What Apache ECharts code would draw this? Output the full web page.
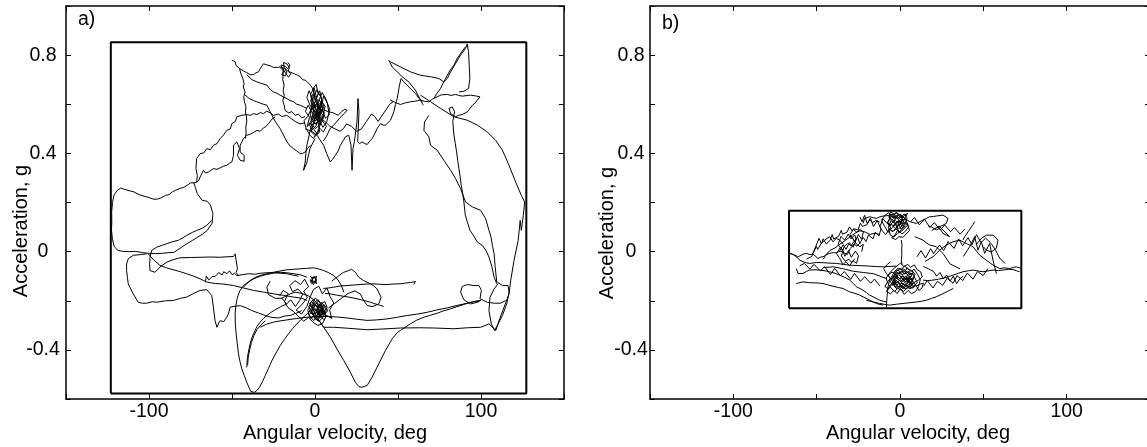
<!DOCTYPE html>
<html><head><meta charset="utf-8">
<script src="https://cdn.jsdelivr.net/npm/echarts@6/dist/echarts.min.js"></script>
<style>html,body{margin:0;padding:0;background:#fff;overflow:hidden}#c{width:1147px;height:447px}</style>
</head><body><div id="c"></div>
<script>
// ---- axis ticks / labels ----
const xTickLabels = [-100, 0, 100];
const yTickLabels = [-0.4, 0, 0.4, 0.8];
const xTitle = 'Angular velocity, deg';
const yTitle = 'Acceleration, g';

// ---- bounding boxes (data units) ----
const boxA = [[-123,-0.578],[127.3,-0.578],[127.3,0.852],[-123,0.852],[-123,-0.578]];
const boxB = [[-66.6,-0.231],[72.8,-0.231],[72.8,0.166],[-66.6,0.166],[-66.6,-0.231]];

// ---- panel a trajectories ----
const aLoopLeft = [[-73,0.28],[-75,0.28],[-77,0.27],[-79,0.262],[-81,0.258],[-84,0.25],[-86,0.243],[-88,0.232],[-90,0.229],[-93,0.218],[-95,0.214],[-97,0.213],[-100,0.22],[-103,0.226],[-106,0.232],[-109,0.243],[-112,0.248],[-115,0.254],[-117,0.259],[-119,0.25],[-121,0.232],[-122,0.2],[-122.5,0.16],[-122.4,0.12],[-122.6,0.087],[-122,0.05],[-121,0.022],[-119,0.006],[-116,0.001],[-112,0.0],[-108,0.001],[-104,-0.004],[-100,-0.007],[-96,-0.008],[-92,-0.007],[-88,-0.004],[-85,-0.003],[-81,0.015],[-77,0.033],[-74,0.045],[-71,0.058],[-68,0.07],[-65,0.086],[-62,0.115],[-61.5,0.155],[-63,0.19],[-65,0.205],[-68,0.209],[-71,0.237],[-72,0.26],[-73,0.28]];
const aLoopInner = [[-62.2,0.127],[-65.2,0.107],[-68,0.095],[-71.3,0.086],[-74,0.078],[-77.3,0.066],[-80,0.055],[-82.3,0.046],[-86,0.04],[-89.4,0.032],[-92,0.026],[-95.4,0.018],[-98.4,0.005],[-99.4,-0.022],[-99.6,-0.05],[-99.4,-0.077],[-96.4,-0.084],[-93.4,-0.063],[-89.4,-0.043],[-85,-0.032],[-81.3,-0.025],[-75,-0.024],[-69.2,-0.023],[-63,-0.022],[-57.2,-0.023],[-53,-0.021],[-49.1,-0.02],[-48.1,-0.009],[-47.5,-0.036],[-46.7,-0.07],[-47.5,-0.085],[-46.1,-0.097]];
const aLoopLow = [[-101.4,-0.009],[-105,-0.012],[-109.5,-0.015],[-112.5,-0.029],[-113.5,-0.05],[-113.5,-0.077],[-113,-0.105],[-112.5,-0.131],[-111,-0.152],[-109.5,-0.172],[-106.5,-0.206],[-104,-0.21],[-101.4,-0.21],[-98,-0.204],[-95.4,-0.206],[-90,-0.2],[-85.3,-0.199],[-81,-0.19],[-77.3,-0.185],[-73,-0.17],[-69.2,-0.158],[-65.2,-0.155],[-62.2,-0.179],[-61.2,-0.226],[-60.8,-0.25],[-60.2,-0.281],[-59.1,-0.308],[-58,-0.29],[-57.1,-0.281],[-55,-0.285],[-53.1,-0.267],[-52,-0.25],[-51.1,-0.226],[-48,-0.222],[-45,-0.22],[-41,-0.23],[-38,-0.24],[-34,-0.25],[-30,-0.26],[-26,-0.268],[-22,-0.27],[-18,-0.262],[-15,-0.26],[-11,-0.25],[-8,-0.24]];
const aLoopMid = [[-100.4,-0.009],[-97,-0.035],[-93.4,-0.056],[-90,-0.065],[-87.4,-0.07],[-82,-0.08],[-77.3,-0.09],[-73,-0.1],[-69.2,-0.111],[-67,-0.118],[-65.2,-0.124],[-60,-0.13],[-55,-0.132],[-49.1,-0.138],[-43,-0.148],[-37,-0.158],[-31,-0.165],[-25,-0.172],[-19,-0.178],[-12.9,-0.185],[-8,-0.19],[-4.9,-0.199]];
const aJagMid = [[-66,-0.125],[-65.5,-0.1],[-64,-0.115],[-62,-0.102],[-60,-0.1],[-58,-0.085],[-56,-0.095],[-55,-0.082],[-53,-0.09],[-51.5,-0.078],[-50,-0.094],[-48.5,-0.088],[-47,-0.098],[-44,-0.094],[-40,-0.09],[-36,-0.092],[-33,-0.088],[-29,-0.086],[-25,-0.085],[-21,-0.088],[-17,-0.09],[-13,-0.096],[-10,-0.1]];
const aDiagonal = [[-73,0.28],[-71.3,0.283],[-70.9,0.31],[-71.7,0.338],[-71.3,0.379],[-69.2,0.399],[-67,0.402],[-65.2,0.419],[-63,0.415],[-61.2,0.433],[-59,0.44],[-57.2,0.46],[-55.2,0.474],[-54,0.47],[-53.1,0.494],[-51,0.5],[-50.1,0.521],[-48,0.53],[-47.1,0.549],[-44.1,0.555],[-41.1,0.558],[-39,0.555],[-37,0.562],[-35,0.558],[-33,0.566],[-31,0.562],[-29,0.572],[-27,0.565],[-25,0.555]];
const aStair = [[-71.3,0.283],[-70,0.29],[-69.2,0.304],[-68,0.32],[-67.2,0.331],[-66,0.32],[-64.2,0.324],[-63,0.33],[-61.2,0.338],[-59,0.335],[-57.2,0.341],[-55,0.348],[-53.1,0.352],[-51.5,0.36],[-50.1,0.365],[-49.1,0.392],[-50.1,0.399],[-49.1,0.433],[-47.1,0.447],[-45.5,0.42],[-46.7,0.392],[-45.1,0.372],[-42.7,0.368],[-42.7,0.392],[-45.1,0.406],[-45.1,0.433],[-43.1,0.46],[-41.1,0.474],[-39,0.478],[-37,0.485],[-35,0.494],[-33,0.49],[-31,0.504],[-29.5,0.51],[-28,0.521],[-26,0.539],[-24,0.549]];
const aTopVert = [[-50.1,0.78],[-48.1,0.773],[-47.5,0.757],[-45.5,0.746],[-44.7,0.725],[-43.5,0.705],[-42.7,0.684],[-43.2,0.67],[-42.1,0.65],[-42.9,0.63],[-42.5,0.61],[-41.6,0.59],[-41.9,0.569],[-41.3,0.548],[-41.1,0.528],[-41.7,0.508],[-41.5,0.487],[-41.9,0.46]];
const aTopEdge = [[-45.5,0.746],[-43,0.735],[-41.1,0.729],[-39,0.72],[-37,0.721],[-35.5,0.728],[-34,0.732],[-33,0.745],[-32,0.752],[-31,0.765],[-30,0.77],[-29,0.76],[-28,0.752],[-27,0.757],[-26,0.762],[-25,0.75],[-24,0.746],[-22.5,0.75],[-21,0.752],[-19.5,0.748],[-18,0.746],[-16,0.732],[-14.5,0.73],[-12.9,0.725],[-11,0.72],[-8.9,0.712],[-7.5,0.7],[-5.9,0.698],[-4.5,0.69],[-2.8,0.678],[-1.5,0.665],[-0.8,0.65],[0.2,0.61]];
const aTopLine1 = [[-41.1,0.72],[-38,0.7],[-35,0.691],[-32,0.684],[-29,0.678],[-27,0.66],[-25,0.65],[-23,0.645],[-21,0.637],[-19,0.63],[-16.9,0.623],[-15,0.615],[-12.9,0.61],[-11,0.6],[-8.9,0.596],[-7,0.59],[-4.9,0.583]];
const aTopLine2 = [[-42.5,0.64],[-40,0.625],[-37,0.615],[-35,0.61],[-32,0.602],[-29,0.596],[-27,0.57],[-25,0.542],[-23,0.52],[-21,0.501],[-19,0.475],[-16.9,0.447],[-15,0.43],[-12.9,0.419],[-11,0.41],[-8.9,0.399],[-7.5,0.4],[-5.9,0.406],[-4.5,0.42],[-2.8,0.433]];
const aTopLine3 = [[-19,0.746],[-19.4,0.7],[-18.6,0.678],[-19.2,0.655],[-18.5,0.637],[-19.4,0.615],[-18.6,0.596],[-18,0.575],[-16,0.565],[-14,0.57],[-12,0.555],[-10,0.56],[-8,0.545],[-6,0.55]];
const aTopLine4 = [[-25,0.555],[-22,0.56],[-20,0.55],[-17,0.555],[-15,0.545],[-12,0.53],[-9,0.52],[-6,0.525]];
const aTopCluster = [[-21,0.75],[-19,0.735],[-20,0.72],[-18,0.715],[-17,0.73],[-18.5,0.75],[-19,0.77],[-17,0.765],[-15.5,0.75],[-16,0.735],[-14.5,0.725],[-16,0.71],[-17.5,0.725],[-19.5,0.745],[-20.5,0.76],[-18,0.755],[-16.5,0.745],[-15,0.76],[-16.5,0.77]];
const aBlobTop = [[0.5,0.552],[2.3,0.571],[1.1,0.604],[-0.8,0.588],[-2.6,0.612],[-1.4,0.641],[0.9,0.627],[2.8,0.655],[4.1,0.618],[3.2,0.583],[5.6,0.566],[4.4,0.532],[6.9,0.511],[5.1,0.487],[2.7,0.503],[1.4,0.478],[-0.6,0.497],[-2.9,0.523],[-4.7,0.509],[-3.3,0.547],[-5.8,0.571],[-4.1,0.596],[-1.9,0.566],[0.2,0.531],[1.8,0.548],[3.9,0.597],[5.2,0.633],[7.4,0.604],[8.6,0.558],[6.3,0.543],[4.7,0.571],[2.2,0.592],[0.4,0.615],[-1.3,0.662],[0.7,0.681],[1.9,0.642],[-0.2,0.603],[-2.4,0.579],[-4.4,0.551],[-6.6,0.533],[-5.2,0.498],[-2.8,0.472],[-0.9,0.461],[1.6,0.489],[3.4,0.521],[2.1,0.557],[-0.4,0.572],[-3.1,0.597],[-4.9,0.628],[-3.6,0.655],[-1.8,0.628],[0.1,0.586],[2.6,0.534],[4.8,0.506],[7.1,0.529],[8.9,0.578],[6.6,0.621],[4.3,0.648],[2.5,0.617],[0.8,0.569],[-1.2,0.541],[-3.7,0.519],[-1.6,0.496],[0.6,0.512],[3.1,0.561],[5.3,0.589],[3.6,0.627],[1.2,0.659],[-0.7,0.633],[-2.1,0.601],[-0.3,0.556],[2.4,0.518],[4.6,0.548],[6.1,0.592],[4.2,0.609],[1.7,0.583],[-0.6,0.527],[-2.3,0.488],[0.3,0.471],[2.9,0.487],[1.5,0.538],[-1.1,0.583],[-2.7,0.641],[-0.5,0.667],[1.3,0.614],[3.3,0.574],[1.0,0.545]];
const aBlobTopCore = [[0.8,0.551],[1.9,0.563],[1.2,0.578],[2.6,0.589],[3.4,0.571],[2.7,0.552],[4.1,0.541],[3.3,0.527],[1.8,0.533],[0.6,0.518],[-0.7,0.529],[-1.6,0.546],[-0.9,0.562],[-2.3,0.574],[-1.4,0.591],[0.1,0.584],[0.9,0.603],[2.2,0.597],[3.6,0.608],[4.6,0.588],[3.9,0.562],[5.1,0.553],[4.4,0.533],[2.9,0.516],[1.5,0.508],[0.2,0.501],[-1.2,0.513],[-2.4,0.528],[-1.8,0.553],[-0.3,0.547],[1.1,0.536],[2.4,0.544],[1.6,0.571],[0.3,0.569],[-1.1,0.583],[-0.2,0.598],[1.4,0.589],[2.9,0.576],[4.2,0.593],[3.1,0.613],[1.7,0.618],[0.4,0.611],[-0.8,0.604],[-2.1,0.593],[-2.9,0.561],[-2.2,0.538],[-0.6,0.521],[0.9,0.524],[2.3,0.531],[3.8,0.551],[2.6,0.568],[1.0,0.559],[-0.4,0.537],[0.7,0.547]];
const aMidRight = [[-6,0.5],[-2,0.49],[1.2,0.474],[3,0.455],[5.2,0.433],[7,0.4],[9.2,0.365],[10.5,0.375],[12.2,0.392],[14,0.41],[15.3,0.433],[17,0.452],[18.3,0.467],[20.3,0.474],[21.7,0.433],[22.3,0.331],[22.9,0.42],[23.7,0.447],[25.3,0.528],[25.9,0.623],[26.5,0.569],[25.7,0.447],[27,0.44],[28.3,0.447],[30,0.44],[31.4,0.436],[33,0.45],[34.4,0.46],[36,0.48],[37.4,0.501],[39.4,0.521],[41,0.515],[42.4,0.515],[44,0.525],[45.5,0.535],[47.5,0.569],[48.5,0.6],[49.5,0.623],[50.2,0.65],[50.9,0.678],[51.9,0.705],[53.5,0.69],[55.5,0.678],[58,0.66],[60.5,0.644],[62.5,0.625],[64.6,0.61]];
const aSpikeDown = [[-2,0.52],[-4.9,0.433],[-5.5,0.4],[-5.9,0.365],[-6.9,0.331],[-5,0.36],[-3,0.42],[0,0.46]];
const aMidZig = [[3,0.54],[6,0.53],[9,0.51],[12,0.5],[15,0.49],[17,0.5],[19,0.52],[22,0.51],[25,0.49],[28,0.5],[31,0.53],[34,0.56],[36,0.55],[38,0.53],[41,0.56],[43,0.58],[45,0.6],[47,0.61]];
const aSpur = [[4,0.58],[8,0.57],[11,0.565],[14,0.555],[16,0.57],[18,0.58],[19.3,0.576],[18,0.565],[15,0.545],[12,0.52],[9,0.5],[7,0.47],[5,0.45]];
const aRightA = [[44.4,0.78],[46.5,0.752],[49.5,0.732],[52.5,0.712],[56.5,0.691],[60.5,0.657],[63.6,0.617],[65.2,0.596]];
const aRightB = [[45.4,0.773],[51.5,0.752],[57.5,0.732],[63.6,0.718],[69.6,0.712],[74.6,0.705],[77.6,0.691],[79.7,0.705],[81.7,0.732],[84.7,0.766],[87.7,0.8],[90.7,0.827],[91.7,0.845],[92.5,0.814],[92.9,0.759],[93.3,0.705],[92.5,0.664],[89.7,0.653],[86.7,0.65]];
const aRightC = [[71.6,0.623],[73.5,0.645],[75.6,0.664],[77.5,0.69],[79.7,0.718],[81.5,0.74],[83.7,0.759],[85.5,0.785],[87.7,0.807],[90.7,0.834]];
const aRightD = [[45.4,0.617],[48,0.608],[51.5,0.599],[54,0.605],[57.5,0.61],[60,0.612],[63.6,0.617],[66,0.612],[68.6,0.61],[71,0.622],[73.6,0.63],[76,0.638],[79.7,0.64],[82,0.636],[84.7,0.64],[86.5,0.636],[88.7,0.633],[91,0.635],[93.7,0.637],[96.7,0.634],[99.4,0.63],[97.8,0.617],[96.5,0.605],[94.8,0.596],[93,0.58],[91.7,0.569],[88.7,0.558],[86.5,0.555],[84.7,0.549],[81.7,0.562],[80.7,0.583],[82.7,0.589],[84.1,0.569],[83,0.53],[83.7,0.474],[84.5,0.44],[85.3,0.406],[86,0.37],[86.7,0.338],[87.5,0.3],[88.1,0.27],[89,0.235],[89.7,0.202],[90.5,0.15],[91.8,0.12],[93.4,0.086],[94.8,0.073],[97.8,0.039],[100.8,0.025],[103,0.005],[104.8,-0.022],[106.5,-0.06],[107.9,-0.104],[109.5,-0.131]];
const aRightE = [[68.6,0.555],[66,0.528],[65.6,0.494],[68.6,0.467],[69.6,0.433],[73.6,0.413],[77.6,0.372],[81.7,0.331],[84.7,0.297],[87.7,0.256],[90.7,0.202],[94.8,0.182],[99.8,0.168],[102.8,0.134],[104.8,0.087],[106,0.06],[107,0.02],[107.9,-0.009],[108.5,-0.06],[109.5,-0.124]];
const aRightOuter = [[63.6,0.637],[69.6,0.61],[75.6,0.583],[83.7,0.549],[91.7,0.535],[97.8,0.515],[103.8,0.487],[108.8,0.453],[112.9,0.413],[116.9,0.351],[120.9,0.283],[124.3,0.229],[126.3,0.202],[125.5,0.148],[124.3,0.087],[123.6,0.127],[122.4,0.046],[119.9,-0.036],[117.9,-0.117],[116.9,-0.172],[113.9,-0.226],[110.9,-0.281],[108.9,-0.321],[104.8,-0.294],[99.8,-0.308],[91.7,-0.31],[83.7,-0.314],[71.6,-0.311],[63.6,-0.31],[51.5,-0.311],[41,-0.315],[31.4,-0.318],[20,-0.312],[11.2,-0.308],[5.2,-0.308],[3.2,-0.287],[-0.8,-0.267]];
const aRightLoop1 = [[109.8,-0.124],[112.9,-0.138],[116.3,-0.138],[116.9,-0.165],[115.5,-0.213],[112.9,-0.26],[109.8,-0.301],[108.2,-0.321],[106.2,-0.294],[104.8,-0.24],[105.4,-0.186],[107.9,-0.152],[110.2,-0.131]];
const aRightLoop2 = [[99.8,-0.199],[97.8,-0.206],[93.7,-0.213],[89.7,-0.196],[87.7,-0.165],[88.7,-0.142],[91.7,-0.134],[95.7,-0.138],[98.8,-0.138],[100.2,-0.158],[99.4,-0.192],[103.8,-0.206],[108,-0.21],[111.8,-0.21],[114.9,-0.199]];
const aCross = [[-33,-0.308],[-29,-0.295],[-25,-0.287],[-21,-0.282],[-16.9,-0.278],[-11,-0.272],[-4.9,-0.267],[1,-0.265],[7.2,-0.264],[13,-0.266],[19.3,-0.27],[25,-0.275],[31.4,-0.28],[37,-0.278],[43.4,-0.274],[49,-0.268],[55.5,-0.26],[61,-0.255],[67.6,-0.247],[73,-0.238],[79.7,-0.229],[85,-0.22],[89.7,-0.213],[94,-0.206],[99.8,-0.199]];
const aVee = [[1.2,-0.267],[5.2,-0.308],[9.2,-0.348],[13.2,-0.396],[17.3,-0.443],[21.3,-0.491],[24.3,-0.532],[26.5,-0.55],[28.3,-0.552],[31.4,-0.545],[34.4,-0.511],[38.4,-0.457],[42.4,-0.403],[46.5,-0.355],[49.5,-0.33],[51.5,-0.321],[57.5,-0.294],[61,-0.28],[65.6,-0.267],[69,-0.26],[73.6,-0.251],[77,-0.242],[81.7,-0.233],[85,-0.225],[89.7,-0.215],[93,-0.208],[96.7,-0.202],[99.8,-0.199]];
const aUShape = [[-4.9,-0.104],[-8.5,-0.095],[-12.9,-0.09],[-17,-0.086],[-21,-0.084],[-25,-0.088],[-29,-0.093],[-33,-0.1],[-37,-0.111],[-40,-0.123],[-43.1,-0.138],[-45.3,-0.16],[-46.7,-0.185],[-47.7,-0.22],[-48.1,-0.253],[-48,-0.295],[-47.5,-0.335],[-46.8,-0.375],[-46.1,-0.416],[-45.2,-0.447],[-44.1,-0.477],[-42.6,-0.505],[-41.1,-0.532],[-38.7,-0.569],[-36.6,-0.573],[-35,-0.565],[-33.4,-0.552],[-31.7,-0.53],[-30,-0.505],[-28,-0.475],[-26,-0.444],[-23.5,-0.413],[-21,-0.383],[-18.5,-0.358],[-16,-0.335],[-13.5,-0.313],[-10.9,-0.294],[-8.5,-0.277],[-5.9,-0.26],[-3.5,-0.245],[-0.8,-0.233]];
const aThinSpike = [[-41.1,-0.471],[-40.9,-0.45],[-40.7,-0.43],[-40,-0.405],[-39.1,-0.376],[-38,-0.35],[-36.6,-0.328],[-35,-0.305],[-33,-0.287],[-31,-0.272],[-29,-0.26],[-26,-0.245],[-23,-0.233],[-20,-0.222],[-16.9,-0.213]];
const aThinSpike2 = [[-40.6,-0.462],[-40.2,-0.43],[-39.4,-0.4],[-38.3,-0.37],[-36.8,-0.342],[-35,-0.318],[-32.5,-0.298],[-30,-0.282]];
const aArcLow = [[-43.1,-0.145],[-41,-0.13],[-39.1,-0.118],[-36,-0.105],[-33,-0.097],[-29,-0.09],[-25,-0.084],[-21,-0.079],[-16.9,-0.074],[-13,-0.072],[-8.9,-0.07],[-5,-0.068],[-0.8,-0.066],[2,-0.07],[5.2,-0.077],[8,-0.085],[11.2,-0.097],[13.5,-0.112],[15.3,-0.131],[16.5,-0.148],[17.3,-0.165]];
const aToRight1 = [[5,-0.15],[8,-0.148],[11.2,-0.145],[15,-0.14],[19.3,-0.138],[23,-0.136],[27.3,-0.134],[31,-0.132],[35.4,-0.131],[39,-0.133],[43.4,-0.134],[47,-0.132],[51.5,-0.131],[54.5,-0.128],[57.5,-0.126],[60.5,-0.122],[59.5,-0.134]];
const aToRight2 = [[6,-0.17],[9.2,-0.172],[13,-0.177],[17.3,-0.182],[21,-0.186],[25.3,-0.192],[29,-0.198],[33.4,-0.206],[36,-0.212],[39.4,-0.219],[41.4,-0.223]];
const aSmallLoop = [[10,-0.12],[14,-0.1],[17,-0.085],[20.3,-0.077],[22,-0.072],[24.3,-0.084],[26.3,-0.104],[29.3,-0.118],[33.4,-0.131],[35.5,-0.14],[37.4,-0.152],[39.8,-0.186],[38.4,-0.213],[34.4,-0.224],[31.4,-0.219],[29.3,-0.199],[27.3,-0.172],[24,-0.16],[20,-0.17],[16,-0.19],[12,-0.21],[8,-0.23]];
const aLeftOfCluster = [[-27,-0.12],[-29,-0.145],[-28,-0.175],[-24,-0.19],[-20,-0.19],[-16,-0.175],[-12,-0.165],[-8,-0.17],[-4,-0.18],[0,-0.2]];
const aBlobLowCore = [[1.2,-0.231],[3.4,-0.247],[2.1,-0.268],[-0.3,-0.259],[-2.6,-0.272],[-4.1,-0.251],[-2.2,-0.229],[-0.4,-0.207],[1.9,-0.196],[3.7,-0.214],[5.8,-0.203],[7.3,-0.227],[6.1,-0.252],[4.2,-0.271],[2.6,-0.283],[0.4,-0.276],[-1.7,-0.248],[-3.8,-0.226],[-2.1,-0.203],[0.7,-0.218],[2.8,-0.236],[4.9,-0.244],[6.7,-0.266],[4.6,-0.221],[2.3,-0.201],[0.2,-0.189],[-1.9,-0.214],[-4.4,-0.238],[-3.1,-0.263],[-0.8,-0.281],[1.6,-0.262],[3.9,-0.231],[5.5,-0.216],[7.8,-0.241],[5.2,-0.257],[2.9,-0.224],[0.9,-0.243],[-1.3,-0.232],[-3.3,-0.211],[-1.0,-0.195],[1.4,-0.212],[3.2,-0.258],[5.0,-0.276],[2.4,-0.249],[0.1,-0.233],[-2.4,-0.241],[-0.6,-0.266],[1.8,-0.277],[4.4,-0.259],[6.4,-0.234],[4.1,-0.206],[1.7,-0.224],[-0.9,-0.217],[-2.8,-0.252],[0.5,-0.252],[2.7,-0.213],[4.8,-0.233],[3.0,-0.269],[0.8,-0.238]];
const aBlobLowCore2 = [[1.3,-0.228],[2.4,-0.239],[1.7,-0.252],[0.2,-0.246],[-0.9,-0.259],[-2.1,-0.246],[-1.3,-0.231],[-0.1,-0.219],[1.1,-0.208],[2.6,-0.216],[3.8,-0.227],[4.9,-0.238],[4.2,-0.254],[3.1,-0.263],[1.8,-0.268],[0.6,-0.259],[-0.6,-0.241],[-1.9,-0.224],[-0.8,-0.211],[0.7,-0.221],[1.9,-0.233],[3.2,-0.241],[5.4,-0.252],[4.6,-0.229],[3.3,-0.212],[2.1,-0.201],[0.8,-0.209],[-0.5,-0.228],[-1.6,-0.253],[-0.3,-0.266],[1.2,-0.258],[2.7,-0.247],[3.9,-0.234],[2.8,-0.222],[1.5,-0.236],[0.3,-0.233]];
const aBlobLowOuter = [[-20.3,-0.187],[-17.1,-0.213],[-14.6,-0.196],[-11.8,-0.224],[-9.2,-0.198],[-7.4,-0.173],[-10.3,-0.152],[-13.5,-0.163],[-15.2,-0.139],[-12.1,-0.118],[-8.7,-0.134],[-6.2,-0.112],[-3.9,-0.143],[-6.8,-0.161],[-4.6,-0.187],[-8.3,-0.219],[-11.4,-0.238],[-8.1,-0.254],[-4.9,-0.223],[-2.7,-0.181],[-0.8,-0.153],[2.3,-0.141],[4.4,-0.172],[7.2,-0.148],[9.1,-0.183],[11.3,-0.209],[8.8,-0.238],[10.1,-0.272],[6.9,-0.259],[4.7,-0.291],[1.8,-0.301],[-1.3,-0.287],[-3.8,-0.268],[-6.9,-0.283],[-10.2,-0.262],[-13.1,-0.243],[-16.3,-0.228],[-18.4,-0.203],[-16.1,-0.171],[-19.2,-0.158],[-21.4,-0.181]];
const aBlobLowPatch = [[-3,-0.1],[-1,-0.11],[1,-0.1],[0,-0.12],[-2,-0.13],[-3,-0.115],[-1,-0.12],[1,-0.13],[0,-0.105],[-2,-0.105],[-1,-0.135],[1,-0.115],[-0.5,-0.1],[-2.5,-0.125]];

// ---- panel b trajectories ----
const bLeft1 = [[-66.6,-0.007],[-65,-0.01],[-63.2,-0.014],[-61.5,-0.02],[-60.2,-0.018],[-58,-0.01],[-56.2,-0.007],[-54,-0.012],[-52.2,-0.01],[-50.5,-0.02],[-49.2,-0.028],[-47.5,-0.022],[-46.2,-0.021],[-44,-0.012],[-42.2,-0.007],[-40,-0.004],[-38.2,-0.005],[-36,0.002],[-34.2,0.0]];
const bLeft2 = [[-66.6,-0.005],[-64,-0.012],[-62.2,-0.021],[-60,-0.035],[-58.2,-0.041],[-56,-0.046],[-54.2,-0.048],[-50,-0.044],[-46.2,-0.045],[-42,-0.047],[-38.2,-0.048],[-34,-0.052],[-30.2,-0.055],[-24,-0.057],[-18.2,-0.059],[-14,-0.061],[-10.2,-0.062],[-6,-0.06],[-2.2,-0.059]];
const bLeft3 = [[-62.2,-0.069],[-61.2,-0.089],[-58.2,-0.089],[-56,-0.08],[-54.2,-0.075],[-51,-0.074],[-48.2,-0.075],[-45,-0.078],[-42.2,-0.082],[-39,-0.088],[-36.2,-0.096],[-33,-0.105],[-30.2,-0.116],[-28,-0.13],[-26.2,-0.143],[-24,-0.15],[-22.2,-0.157],[-20,-0.168],[-18.2,-0.177],[-15,-0.188],[-12.2,-0.198],[-10,-0.202],[-8.2,-0.205]];
const bLeft4 = [[-62.2,-0.13],[-60,-0.126],[-58.2,-0.123],[-55,-0.126],[-52.2,-0.127],[-49,-0.128],[-46.2,-0.13],[-43,-0.136],[-40.2,-0.141],[-37,-0.146],[-34.2,-0.15],[-32,-0.158],[-30.2,-0.164],[-27,-0.17],[-24.2,-0.177],[-21,-0.188],[-18.2,-0.198],[-16,-0.205],[-14.2,-0.211],[-12,-0.215],[-10.2,-0.218]];
const bLeftSpikes = [[-56,-0.03],[-53,-0.02],[-50.2,0.027],[-48.6,0.054],[-47.2,0.033],[-45.2,0.047],[-42.2,0.061],[-40.2,0.04],[-38.2,0.054],[-36.2,0.047],[-34,0.03]];
const bLeftArc = [[-46,-0.03],[-44,-0.01],[-42,0.005],[-39,0.015],[-36,0.03],[-33,0.045],[-30,0.06],[-27,0.075],[-24,0.085],[-21,0.08],[-18,0.07],[-15,0.075],[-12,0.07]];
const bJag1 = [[-52.3,-0.008],[-50.1,0.021],[-49.4,0.009],[-46.8,0.038],[-46.1,0.052],[-44.2,0.031],[-41.9,0.047],[-40.7,0.069],[-39.8,0.051],[-36.9,0.062],[-35.2,0.087],[-34.6,0.071],[-31.8,0.079],[-30.3,0.101],[-28.7,0.084],[-27.9,0.093],[-25.1,0.089],[-23.8,0.116],[-22.6,0.103],[-19.9,0.109],[-18.2,0.131],[-16.7,0.118],[-14.3,0.127],[-12.2,0.121]];
const bJag2 = [[-24.1,0.141],[-22.7,0.122],[-21.3,0.148],[-19.6,0.113],[-17.8,0.137],[-15.9,0.102],[-13.7,0.126],[-11.4,0.093],[-12.6,0.064],[-14.8,0.079],[-16.2,0.052],[-18.9,0.068],[-20.4,0.041],[-22.1,0.058],[-24.3,0.031]];
const bJag5 = [[-60.2,-0.058],[-57.4,-0.048],[-54.1,-0.071],[-51.6,-0.052],[-47.8,-0.079],[-45.3,-0.061],[-41.7,-0.093],[-39.2,-0.068],[-35.8,-0.098],[-33.4,-0.081],[-29.6,-0.113],[-27.3,-0.089],[-23.7,-0.121],[-21.2,-0.102],[-17.6,-0.129],[-15.3,-0.112],[-12.1,-0.139]];
const bClusterLeft = [[-36.2,0.003],[-34.1,0.028],[-32.3,0.009],[-30.4,0.037],[-28.1,0.018],[-26.3,0.049],[-27.2,0.068],[-29.4,0.052],[-31.1,0.071],[-33.2,0.047],[-35.4,0.062],[-37.2,0.027],[-34.8,0.011],[-33.1,-0.019],[-30.9,0.004],[-29.2,-0.023],[-26.8,0.002],[-24.9,-0.017],[-26.1,-0.048],[-28.3,-0.037],[-30.2,-0.058],[-32.4,-0.041],[-34.3,-0.053],[-36.1,-0.028],[-38.1,-0.008],[-35.7,0.019],[-33.8,-0.004],[-31.6,-0.012],[-29.8,0.013],[-27.6,0.031],[-25.8,0.022],[-24.2,0.034],[-25.4,0.058],[-27.7,0.041],[-29.3,0.024],[-31.4,0.033],[-33.5,0.021],[-35.2,-0.018],[-32.8,-0.039],[-30.7,-0.031],[-28.9,-0.044],[-27.1,-0.029]];
const bClusterUL = [[-29,0.06],[-27,0.04],[-25,0.07],[-23,0.05],[-22,0.08],[-24,0.09],[-26,0.08],[-28,0.09],[-30,0.07],[-28,0.05],[-26,0.03],[-24,0.02],[-22,0.03],[-23,0.0]];
const bTop = [[-22.2,0.115],[-21.2,0.135],[-18.2,0.142],[-16,0.138],[-14.2,0.135],[-12,0.142],[-10.2,0.145],[-8,0.146],[-6.2,0.149],[-4,0.152],[-2.2,0.156],[0,0.15],[1.8,0.142],[4,0.13],[5.8,0.122],[8,0.118],[9.8,0.115],[12,0.122],[13.8,0.129],[16,0.136],[17.8,0.142],[20,0.143],[21.8,0.145],[24,0.147],[25.8,0.149],[28.8,0.135],[27.8,0.115],[25,0.105],[22,0.1]];
const bClusterUp = [[-3.6,0.102],[-1.8,0.124],[0.4,0.097],[2.3,0.118],[1.1,0.143],[-0.7,0.152],[-2.9,0.131],[-5.2,0.146],[-7.4,0.121],[-5.6,0.097],[-7.1,0.078],[-9.3,0.104],[-11.2,0.127],[-9.1,0.148],[-6.8,0.158],[-4.4,0.139],[-2.2,0.161],[0.3,0.138],[2.6,0.154],[4.3,0.137],[3.1,0.116],[5.4,0.103],[3.4,0.084],[1.2,0.072],[-1.3,0.088],[-3.2,0.066],[-5.1,0.057],[-2.7,0.049],[-0.6,0.061],[1.7,0.058],[3.6,0.071],[5.7,0.086],[4.2,0.118],[1.9,0.104],[-0.4,0.113],[-2.4,0.093],[-4.7,0.081],[-6.3,0.094],[-8.6,0.069],[-10.4,0.083],[-12.1,0.101],[-10.2,0.134],[-8.1,0.117],[-6.1,0.107],[-3.9,0.124],[-1.6,0.141],[0.7,0.129],[2.4,0.147],[4.6,0.156],[2.1,0.128],[-0.2,0.121],[-3.3,0.114],[-5.4,0.127],[-6.9,0.101],[-5.9,0.068],[-3.7,0.059],[-1.5,0.074],[0.9,0.083],[2.8,0.096],[4.7,0.109],[3.3,0.134],[0.6,0.112],[-1.2,0.133],[-3.5,0.152],[-5.8,0.163],[-6.4,0.138],[-4.1,0.128],[-1.9,0.107],[-0.8,0.079],[1.4,0.091],[3.2,0.106]];
const bClusterUpCore = [[-2.6,0.113],[-1.3,0.126],[0.2,0.118],[1.6,0.131],[0.7,0.143],[-0.9,0.139],[-2.2,0.148],[-3.7,0.136],[-5.1,0.144],[-6.4,0.129],[-7.6,0.117],[-6.2,0.104],[-4.8,0.111],[-3.4,0.097],[-1.9,0.089],[-0.6,0.098],[0.8,0.091],[2.1,0.104],[2.8,0.119],[1.4,0.112],[0.1,0.127],[-1.6,0.118],[-2.9,0.127],[-4.3,0.122],[-5.7,0.133],[-6.8,0.142],[-5.2,0.151],[-3.9,0.146],[-2.4,0.138],[-1.1,0.149],[0.4,0.152],[1.9,0.141],[0.9,0.124],[-0.4,0.108],[-1.8,0.101],[-3.1,0.114],[-4.6,0.098],[-5.9,0.088],[-4.2,0.083],[-2.7,0.092],[-1.2,0.111]];
const bVertical = [[0.8,0.047],[1.2,0.025],[1,0.006],[1.1,-0.015],[0.8,-0.035],[1.2,-0.055]];
const bClusterLow = [[0.4,-0.098],[2.3,-0.121],[4.6,-0.103],[6.2,-0.127],[8.7,-0.104],[10.3,-0.126],[8.1,-0.143],[5.8,-0.152],[3.7,-0.134],[1.6,-0.147],[-0.7,-0.128],[-2.4,-0.116],[-4.3,-0.138],[-6.1,-0.119],[-3.8,-0.097],[-1.9,-0.078],[0.6,-0.069],[2.8,-0.083],[4.2,-0.066],[6.7,-0.081],[8.4,-0.071],[10.6,-0.093],[12.2,-0.114],[11.1,-0.142],[9.3,-0.163],[6.9,-0.171],[4.8,-0.158],[2.6,-0.174],[0.9,-0.157],[-1.4,-0.149],[-3.2,-0.163],[-5.3,-0.148],[-7.1,-0.131],[-8.4,-0.108],[-6.2,-0.087],[-4.1,-0.071],[-1.8,-0.058],[0.3,-0.047],[2.4,-0.061],[4.7,-0.052],[6.3,-0.064],[8.6,-0.054],[10.2,-0.073],[12.4,-0.082],[13.3,-0.103],[10.8,-0.118],[8.9,-0.124],[6.8,-0.136],[5.1,-0.118],[2.9,-0.108],[1.1,-0.124],[-1.2,-0.112],[-3.4,-0.101],[-5.3,-0.113],[-7.2,-0.097],[-4.8,-0.083],[-2.7,-0.092],[-0.8,-0.087],[1.3,-0.093],[3.4,-0.088],[5.4,-0.097],[7.2,-0.114],[9.1,-0.091],[6.8,-0.077],[4.9,-0.072],[2.7,-0.058],[0.8,-0.073],[-1.1,-0.068],[-3.3,-0.081],[-5.2,-0.104],[-7.4,-0.123],[-9.1,-0.142],[-6.8,-0.153],[-4.7,-0.131],[-2.8,-0.134],[-0.6,-0.143],[1.4,-0.138],[3.2,-0.153],[5.3,-0.141],[7.4,-0.149],[9.6,-0.137],[11.3,-0.158],[13.1,-0.149],[14.1,-0.128],[11.8,-0.133],[9.7,-0.141],[7.8,-0.121],[5.9,-0.104],[3.8,-0.113],[1.7,-0.101],[-0.3,-0.109],[-2.2,-0.097],[-4.1,-0.122],[-6.3,-0.141],[-8.2,-0.162],[-5.7,-0.172],[-3.6,-0.158],[-1.7,-0.171],[0.2,-0.151],[2.1,-0.162],[4.3,-0.148],[6.1,-0.131],[3.9,-0.119],[1.8,-0.133],[-0.2,-0.118],[-2.3,-0.128],[-3.9,-0.108],[-1.6,-0.091],[0.4,-0.082],[2.2,-0.071],[4.4,-0.084],[6.4,-0.093],[8.2,-0.083],[5.7,-0.112],[3.6,-0.141],[1.9,-0.152],[-0.1,-0.138],[-2.1,-0.151],[-3.8,-0.129],[-5.9,-0.108],[-8.3,-0.088],[-9.8,-0.069],[-7.6,-0.052],[-5.8,-0.041]];
const bClusterLowCore = [[1.1,-0.108],[2.4,-0.118],[3.9,-0.106],[5.2,-0.121],[6.6,-0.111],[7.9,-0.127],[6.8,-0.139],[5.1,-0.133],[3.6,-0.143],[2.2,-0.131],[0.8,-0.139],[-0.6,-0.126],[-1.9,-0.137],[-3.3,-0.122],[-4.6,-0.109],[-3.1,-0.096],[-1.8,-0.084],[-0.4,-0.092],[1.2,-0.079],[2.7,-0.091],[4.3,-0.081],[5.8,-0.094],[7.4,-0.087],[8.7,-0.101],[7.6,-0.116],[6.1,-0.104],[4.4,-0.097],[3.1,-0.111],[1.6,-0.097],[0.2,-0.113],[-1.3,-0.104],[-2.8,-0.113],[-4.1,-0.131],[-2.9,-0.146],[-1.4,-0.141],[0.1,-0.149],[1.7,-0.142],[3.4,-0.151],[5.6,-0.146],[7.1,-0.138],[8.4,-0.144],[6.3,-0.124],[4.8,-0.113],[3.2,-0.124],[1.9,-0.109],[0.6,-0.121],[-0.9,-0.116],[-2.3,-0.099],[-3.7,-0.087],[-2.2,-0.074],[-0.7,-0.078],[0.9,-0.088],[2.3,-0.077],[3.8,-0.089],[5.3,-0.079],[6.9,-0.096],[5.6,-0.109],[4.1,-0.126],[2.6,-0.138],[1.3,-0.127],[-0.2,-0.134],[-1.7,-0.121],[-3.2,-0.134],[-4.4,-0.119],[-2.6,-0.108],[-1.1,-0.094],[0.4,-0.101],[1.8,-0.114],[3.3,-0.099],[4.9,-0.111],[6.4,-0.131],[7.8,-0.119]];
const bRightBlob = [[17,0.105],[18.8,0.101],[21.8,0.088],[23.8,0.095],[25.8,0.074],[27.8,0.067],[29.8,0.061],[27,0.08],[24,0.1],[21,0.095],[19,0.085]];
const bRightSpike = [[44.8,0.122],[43.8,0.11],[42.8,0.101],[41.8,0.09],[40.8,0.081],[39.8,0.07],[38.8,0.061],[37.8,0.047]];
const bRightLoop = [[46,0.03],[48.8,0.054],[51.8,0.067],[55.8,0.067],[58.8,0.047],[57.8,0.013],[54.8,-0.001],[51.8,0.006],[50,0.02]];
const bRightLong = [[15,-0.04],[19.8,-0.021],[23.8,0.006],[27.8,0.027],[31.8,0.04],[35.8,0.047],[39.8,0.033],[43.8,0.02],[47.8,-0.014],[51.8,-0.035],[55.8,-0.055],[59.8,-0.069],[63,-0.066],[65.8,-0.069],[68,-0.064],[69.8,-0.062],[72.8,-0.069]];
const bRightLow = [[13.8,-0.116],[16.5,-0.118],[19.8,-0.116],[23,-0.112],[25.8,-0.109],[29,-0.102],[31.8,-0.096],[35,-0.088],[37.8,-0.082],[41,-0.078],[43.8,-0.075],[47,-0.079],[49.8,-0.082],[53,-0.078],[55.8,-0.075],[59,-0.077],[61.8,-0.075],[65,-0.072],[67.8,-0.073],[70,-0.078],[71.8,-0.082]];
const bRightZig = [[38,-0.02],[41.8,0.02],[44.8,0.061],[46.8,0.006],[48.8,0.04],[50.8,-0.007],[53.8,0.033],[55.8,-0.035],[57.8,-0.089]];
const bRightMid = [[8.8,0.061],[11,0.055],[13.8,0.047],[16,0.035],[17.8,0.027],[21.8,0.02],[23.5,0.008],[25.8,-0.007],[28,-0.03],[30,-0.05],[33,-0.06],[36,-0.07]];
const bRightJag = [[14,-0.06],[17,-0.07],[20,-0.08],[22,-0.1],[24,-0.085],[26,-0.11],[28,-0.095],[30,-0.12],[32,-0.1],[34,-0.13],[36,-0.11],[38,-0.1]];
const bJag3 = [[10.2,-0.021],[12.6,0.004],[15.3,-0.026],[18.4,0.012],[20.1,-0.008],[23.7,0.027],[26.2,0.004],[28.9,0.041],[32.4,0.013],[35.1,0.052],[37.6,0.024],[40.8,0.057],[43.2,0.028],[45.9,0.069],[48.6,0.037],[51.4,0.055],[54.7,0.033],[57.2,0.008],[59.8,-0.027],[63.1,-0.048]];
const bJag4 = [[14.2,-0.141],[16.3,-0.117],[19.8,-0.148],[22.4,-0.121],[25.6,-0.137],[28.3,-0.108],[31.9,-0.129],[34.2,-0.098],[37.7,-0.118],[40.4,-0.087],[43.8,-0.112],[46.5,-0.081],[49.9,-0.097],[52.8,-0.069]];
const bJag6 = [[6.3,0.121],[8.7,0.139],[11.6,0.109],[14.8,0.131],[17.9,0.098],[20.6,0.118],[24.2,0.088],[26.8,0.109],[30.3,0.081],[32.7,0.098],[36.1,0.071],[38.9,0.092]];
const bBottom = [[-20.2,-0.198],[-16,-0.205],[-12.2,-0.211],[-9,-0.215],[-6.2,-0.218],[-2,-0.214],[1.8,-0.211],[6,-0.208],[9.8,-0.205],[13,-0.202],[15.8,-0.198],[19,-0.19],[21.8,-0.184],[25.8,-0.171],[29,-0.16],[32,-0.15]];
const bBottomVert = [[-8.2,-0.228],[-8,-0.205],[-7.8,-0.184],[-7.5,-0.163],[-7.2,-0.143],[-6.2,-0.116]];
const bMidLeft = [[-46,-0.065],[-40,-0.062],[-34,-0.07],[-28,-0.08],[-22,-0.085],[-16,-0.09],[-12,-0.1],[-8,-0.11]];

const panelA = [aLoopLeft, aLoopInner, aLoopLow, aLoopMid, aJagMid, aDiagonal, aStair, aTopVert, aTopEdge, aTopLine1, aTopLine2, aTopLine3, aTopLine4, aTopCluster, aBlobTop, aBlobTopCore, aMidRight, aSpikeDown, aMidZig, aSpur, aRightA, aRightB, aRightC, aRightD, aRightE, aRightOuter, aRightLoop1, aRightLoop2, aCross, aVee, aUShape, aThinSpike, aThinSpike2, aArcLow, aToRight1, aToRight2, aSmallLoop, aLeftOfCluster, aBlobLowCore, aBlobLowCore2, aBlobLowOuter, aBlobLowPatch];
const panelB = [bLeft1, bLeft2, bLeft3, bLeft4, bLeftSpikes, bLeftArc, bJag1, bJag2, bJag5, bClusterLeft, bClusterUL, bTop, bClusterUp, bClusterUpCore, bVertical, bClusterLow, bClusterLowCore, bRightBlob, bRightSpike, bRightLoop, bRightLong, bRightLow, bRightZig, bRightMid, bRightJag, bJag3, bJag4, bJag6, bBottom, bBottomVert, bMidLeft];

// ---- chart ----
const FONT = '"Liberation Sans", Arial, Helvetica, sans-serif';
const chart = echarts.init(document.getElementById('c'), null, {renderer: 'canvas'});

function xFmt(v) { return xTickLabels.some(t => Math.abs(t - v) < 1e-6) ? String(Math.round(v)) : ''; }
function yFmt(v) {
  const t = yTickLabels.find(t => Math.abs(t - v) < 1e-6);
  return t === undefined ? '' : String(t);
}
function xAxisDef(gi, top) {
  return {
    type: 'value', gridIndex: gi, position: top ? 'top' : 'bottom',
    min: -150, max: 150, interval: 50,
    axisLine: {onZero: false, lineStyle: {color: '#000', width: 1.5}},
    axisTick: {inside: true, length: 5, lineStyle: {color: '#000', width: 1}},
    axisLabel: {show: !top, formatter: xFmt, color: '#000', fontSize: 19.5, fontFamily: FONT, margin: 3},
    splitLine: {show: false}
  };
}
function yAxisDef(gi, right, margin) {
  return {
    type: 'value', gridIndex: gi, position: right ? 'right' : 'left',
    min: -0.6, max: 1.0, interval: 0.2,
    axisLine: {onZero: false, lineStyle: {color: '#000', width: 1.5}},
    axisTick: {inside: true, length: 5, lineStyle: {color: '#000', width: 1}},
    axisLabel: {show: !right, formatter: yFmt, color: '#000', fontSize: 19.5, fontFamily: FONT, margin: margin, align: 'center'},
    splitLine: {show: false}
  };
}
function lineSeries(data, gi, width) {
  return {
    type: 'line', data: data, xAxisIndex: gi * 2, yAxisIndex: gi * 2,
    symbol: 'none', showSymbol: false, silent: true, clip: true,
    lineStyle: {color: '#000', width: width || 1},
    animation: false
  };
}
const series = [];
panelA.forEach(s => series.push(lineSeries(s, 0, 1)));
panelB.forEach(s => series.push(lineSeries(s, 1, 1)));
series.push(lineSeries(boxA, 0, 2));
series.push(lineSeries(boxB, 1, 2));

function txt(text, x, y, size, rot, align) {
  return {
    type: 'text', x: x, y: y, rotation: rot || 0, silent: true,
    style: {text: text, fill: '#000', font: size + 'px ' + FONT, align: align || 'center', verticalAlign: 'middle'}
  };
}

chart.setOption({
  animation: false,
  backgroundColor: '#fff',
  grid: [
    {left: 66, top: 6, width: 498, height: 393, outerBoundsMode: 'none', containLabel: false},
    {left: 650, top: 6, width: 500, height: 393, outerBoundsMode: 'none', containLabel: false}
  ],
  xAxis: [xAxisDef(0, false), xAxisDef(0, true), xAxisDef(1, false), xAxisDef(1, true)],
  yAxis: [yAxisDef(0, false, 23), yAxisDef(0, true, 0), yAxisDef(1, false, 19), yAxisDef(1, true, 0)],
  series: series,
  graphic: [
    txt('a)', 78, 20, 19.5, 0, 'left'),
    txt('b)', 662, 24, 19.5, 0, 'left'),
    txt(xTitle, 335, 433, 20),
    txt(xTitle, 918, 433, 20),
    txt(yTitle, 21, 231, 20, Math.PI / 2),
    txt(yTitle, 607, 233, 20, Math.PI / 2)
  ]
});
</script>
</body></html>
